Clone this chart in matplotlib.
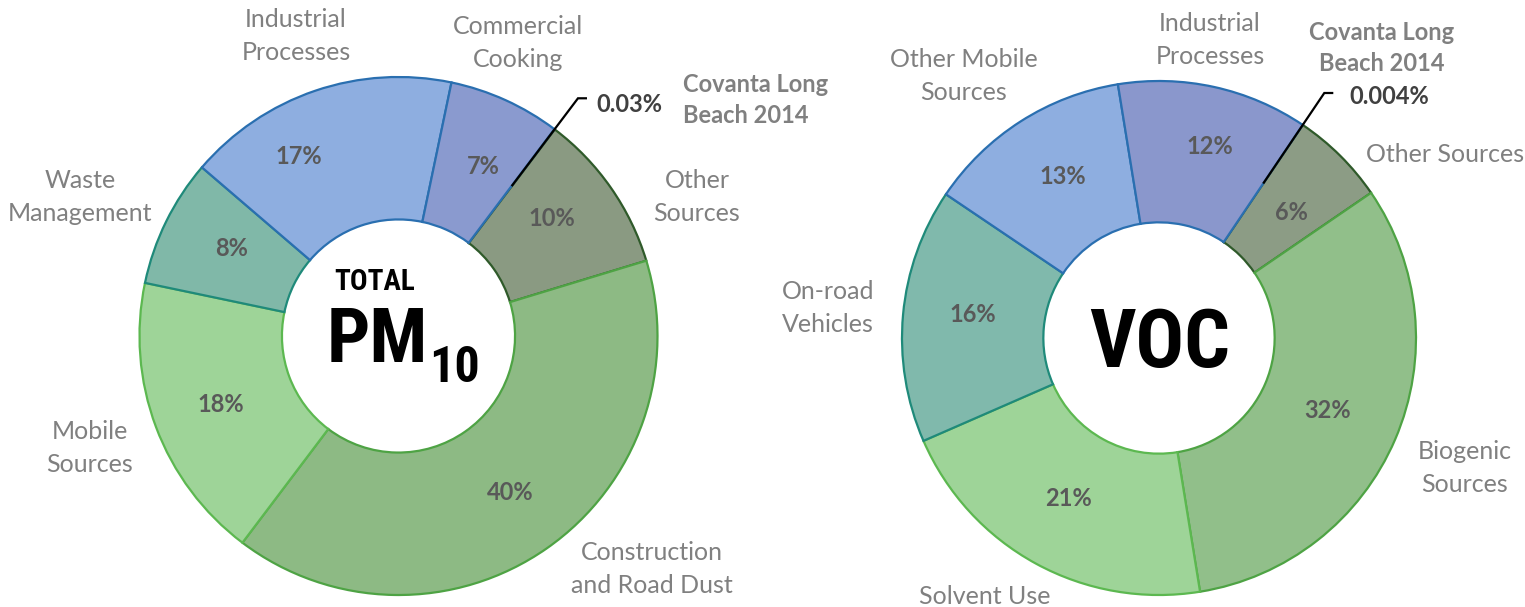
import matplotlib.pyplot as plt
import numpy as np

# PM10 data (clockwise from the Covanta sliver)
pm_labels = ["Covanta Long\nBeach 2014", "Other\nSources", "Construction\nand Road Dust",
             "Mobile\nSources", "Waste\nManagement", "Industrial\nProcesses", "Commercial\nCooking"]
pm_values = [0.03, 10, 40, 18, 8, 17, 7]

# VOC data
voc_labels = ["Covanta Long\nBeach 2014", "Other Sources", "Biogenic\nSources", "Solvent Use",
              "On-road\nVehicles", "Other Mobile\nSources", "Industrial\nProcesses"]
voc_values = [0.004, 6, 32, 21, 16, 13, 12]

W, H = 1525, 607
FONT = ["Lato", "DejaVu Sans"]
CAT_GRAY = "#808080"
PCT_GRAY = "#595959"

pm_fills = ["#8a9a82", "#8a9a82", "#8dba84", "#9ed498", "#80b8a8", "#8eaee0", "#8a9acf"]
pm_edges = ["#2f5a2a", "#2f5a2a", "#4ea344", "#5cb850", "#1f8a7a", "#2a6fb0", "#2a6fb0"]
voc_fills = ["#8c9c85", "#8c9c85", "#91bf8a", "#9ed498", "#80b9ac", "#8eaee0", "#8a97cc"]
voc_edges = ["#2f5a2a", "#2f5a2a", "#4ea344", "#5cb850", "#1f8a7a", "#2a6fb0", "#2a6fb0"]


def py(y):
    # convert pixel row (from top) to axes y
    return H - y


def draw_donut(ax, values, labels, center, radius, start, fills, edges,
               label_pos, pct_pos, cov_label_pos, cov_align, cov_pct_pos):
    cx, cy = center
    wedges, _ = ax.pie(values, center=(cx, py(cy)), radius=radius, startangle=start,
                       counterclock=False, colors=fills,
                       wedgeprops=dict(width=radius * 0.55, linewidth=1.6))
    for w, ec in zip(wedges, edges):
        w.set_edgecolor(ec)

    # category labels (skip the Covanta sliver, handled separately)
    for lab, (x, y) in zip(labels[1:], label_pos):
        ax.text(x, py(y), lab, ha="center", va="center", fontsize=18,
                color=CAT_GRAY, family=FONT, linespacing=1.5)
    # percentage labels inside the ring
    for v, (x, y) in zip(values[1:], pct_pos):
        ax.text(x, py(y), f"{v:g}%", ha="center", va="center", fontsize=17,
                fontweight="bold", color=PCT_GRAY, family=FONT)

    # Covanta callout
    ax.text(cov_label_pos[0], py(cov_label_pos[1]), labels[0], ha=cov_align, va="center",
            fontsize=17, fontweight="bold", color=CAT_GRAY, family=FONT, linespacing=1.45)
    ax.text(cov_pct_pos[0], py(cov_pct_pos[1]), f"{values[0]:g}%", ha="left", va="center",
            fontsize=17, fontweight="bold", color="#404040", family=FONT)
    w0 = wedges[0]
    ang = np.deg2rad((w0.theta1 + w0.theta2) / 2)
    r_in = radius * 0.725
    r_out = radius * 1.15
    x0, y0 = cx + r_in * np.cos(ang), py(cy) + r_in * np.sin(ang)
    x1, y1 = cx + r_out * np.cos(ang), py(cy) + r_out * np.sin(ang)
    ax.plot([x0, x1, x1 + 9], [y0, y1, y1], color="black", lw=1.6,
            solid_capstyle="butt", solid_joinstyle="miter")


fig = plt.figure(figsize=(W / 100, H / 100), dpi=100)
ax = fig.add_axes([0, 0, 1, 1])

draw_donut(ax, pm_values, pm_labels, (398.5, 336), 259, 53, pm_fills, pm_edges,
           label_pos=[(697, 197), (652, 569), (90, 448), (80, 197), (296, 36), (518, 43)],
           pct_pos=[(552, 219), (510, 493), (221, 404), (232, 249), (299, 157), (483, 167)],
           cov_label_pos=(683, 100), cov_align="left", cov_pct_pos=(596, 104))

draw_donut(ax, voc_values, voc_labels, (1159, 338), 257, 56, voc_fills, voc_edges,
           label_pos=[(1445, 155), (1465, 468), (985, 597), (828, 308), (964, 76), (1210, 40)],
           pct_pos=[(1291, 212), (1328, 410), (1068, 499), (973, 315), (1063, 177), (1210, 147)],
           cov_label_pos=(1382, 48), cov_align="center", cov_pct_pos=(1349, 96))

# pie() resets the limits, so fix the pixel frame afterwards
ax.set_xlim(0, W)
ax.set_ylim(0, H)
ax.set_aspect("equal")
ax.axis("off")

# center titles (tall condensed lettering)
NARROW = ["Roboto Condensed", "DejaVu Sans"]
ax.text(334, py(290), "TOTAL", ha="left", va="baseline", fontsize=21, fontweight="bold",
        family=NARROW, fontstretch="condensed", color="black")
ax.text(327, py(362), "PM", ha="left", va="baseline", fontsize=55, fontweight="bold",
        family=NARROW, fontstretch="condensed", color="black")
ax.text(429, py(382), "10", ha="left", va="baseline", fontsize=36, fontweight="bold",
        family=NARROW, fontstretch="condensed", color="black")
ax.text(1160, py(367), "VOC", ha="center", va="baseline", fontsize=58, fontweight="bold",
        family=NARROW, fontstretch="condensed", color="black")

fig.savefig("out.png", dpi=100, facecolor="white")
